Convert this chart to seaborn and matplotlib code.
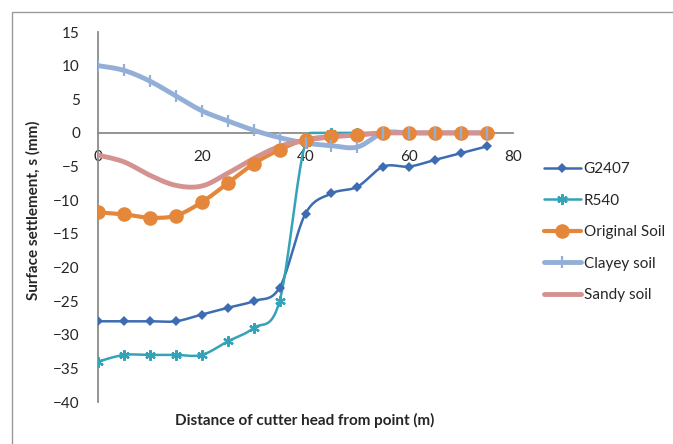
import numpy as np
import pandas as pd
import matplotlib
matplotlib.use("Agg")
import matplotlib.pyplot as plt
import seaborn as sns
from matplotlib.patches import Rectangle

# ---- data ----
distance = [0, 5, 10, 15, 20, 25, 30, 35, 40, 45, 50, 55, 60, 65, 70, 75]
g2407 = [-28, -28, -28, -28, -27, -26, -25, -23, -12, -9, -8, -5, -5, -4, -3, -2]
r540 = [-34, -33, -33, -33, -33, -31, -29, -25, -1.5, 0, 0, 0, 0, 0, 0, 0]
original_soil = [-11.8, -12.1, -12.6, -12.3, -10.3, -7.5, -4.6, -2.5, -1.0, -0.5, -0.3, 0, 0, 0, 0, 0]
clayey_soil = [10, 9.3, 7.7, 5.5, 3.3, 1.8, 0.4, -0.7, -1.5, -1.9, -2.1, 0, 0, 0, 0, 0]
sandy_soil = [-3.3, -4.3, -6.3, -7.8, -7.9, -6.0, -3.8, -2.0, -1.1, -0.6, -0.3, 0, 0, 0, 0, 0]

series_names = ["G2407", "R540", "Original Soil", "Clayey soil", "Sandy soil"]
y_ticks = [-40, -35, -30, -25, -20, -15, -10, -5, 0, 5, 10, 15]
x_ticks = [0, 20, 40, 60, 80]

df = pd.DataFrame({"distance": distance, "G2407": g2407, "R540": r540,
                   "Original Soil": original_soil, "Clayey soil": clayey_soil,
                   "Sandy soil": sandy_soil})

styles = {
    "G2407": dict(color="#3D6CB3", lw=1.8, marker="D", ms=5.5),
    "R540": dict(color="#34A3B8", lw=1.8, marker=(6, 2, 0), ms=7.5),
    "Original Soil": dict(color="#E5873A", lw=3.0, marker="o", ms=10.5),
    "Clayey soil": dict(color="#93AFD8", lw=3.5, marker="|", ms=9),
    "Sandy soil": dict(color="#D49390", lw=3.5, marker=None, ms=0),
}


def smooth(x, y, n=20):
    """Excel-like smoothing (Bezier through the points), capped at the series maximum."""
    x = np.asarray(x, float)
    y = np.asarray(y, float)
    P = np.column_stack([x, y])
    out = []
    for i in range(len(P) - 1):
        p0 = P[i - 1] if i > 0 else P[i]
        p1 = P[i]
        p2 = P[i + 1]
        p3 = P[i + 2] if i + 2 < len(P) else P[i + 1]
        c1 = p1 + (p2 - p0) / 6.0
        c2 = p2 - (p3 - p1) / 6.0
        t = np.linspace(0, 1, n)[:, None]
        seg = ((1 - t) ** 3) * p1 + 3 * ((1 - t) ** 2) * t * c1 + 3 * (1 - t) * t ** 2 * c2 + t ** 3 * p2
        out.append(seg if i == 0 else seg[1:])
    s = np.vstack(out)
    return s[:, 0], np.minimum(s[:, 1], y.max())


sns.set_theme(style="white")
plt.rcParams["font.family"] = ["Lato", "DejaVu Sans"]

fig = plt.figure(figsize=(6.73, 4.44), dpi=100)
ax = fig.add_axes([98 / 673, 1 - 402 / 444, 415 / 673, 370 / 444])

handles = []
for name in series_names:
    st = styles[name]
    sx, sy = smooth(df["distance"], df[name])
    sdf = pd.DataFrame({"x": sx, "y": sy})
    sns.lineplot(data=sdf, x="x", y="y", ax=ax, color=st["color"], lw=st["lw"],
                 sort=False, estimator=None, zorder=3)
    mew = 1.6 if name in ("R540", "Clayey soil") else 0
    if st["marker"] is not None:
        ax.plot(df["distance"], df[name], ls="none", marker=st["marker"], ms=st["ms"],
                color=st["color"], mec=st["color"], mew=mew, zorder=4)
    h, = ax.plot([], [], color=st["color"], lw=st["lw"],
                 marker=st["marker"], ms=st["ms"], mec=st["color"], mew=mew)
    handles.append(h)

ax.set_xlim(0, 80)
ax.set_ylim(-40, 15)
ax.set_xticks(x_ticks)
ax.set_yticks(y_ticks)
ax.set_xlabel("")
ax.set_ylabel("")

for s in ["top", "right"]:
    ax.spines[s].set_visible(False)
ax.spines["bottom"].set_position(("data", 0))
ax.spines["bottom"].set_color("#868686")
ax.spines["left"].set_color("#868686")
ax.spines["bottom"].set_zorder(2)
ax.tick_params(axis="both", length=0, labelsize=11, colors="#262626")
ax.tick_params(axis="x", pad=12)
ax.tick_params(axis="y", pad=13)
ax.patch.set_alpha(0)

fig.text(33 / 673, 1 - 210 / 444, "Surface settlement, s (mm)", rotation=90,
         ha="center", va="center", fontsize=11, fontweight="bold", color="#262626")
fig.text(305 / 673, 1 - 420 / 444, "Distance of cutter head from point (m)",
         ha="center", va="center", fontsize=11, fontweight="bold", color="#262626")

leg = fig.legend(handles, series_names, loc="upper left",
                 bbox_to_anchor=(544 / 673, 1 - 162 / 444), frameon=False,
                 fontsize=11, handlelength=2.4, handletextpad=0.2,
                 labelspacing=1.15, borderpad=0, borderaxespad=0)
for t in leg.get_texts():
    t.set_color("#262626")

fig.patches.append(Rectangle((12 / 673, -0.1), 1.2, 1.1 - 12 / 444,
                             transform=fig.transFigure, fill=False,
                             edgecolor="#9a9a9a", lw=1.0, zorder=0))

fig.savefig("out.png", dpi=100)
